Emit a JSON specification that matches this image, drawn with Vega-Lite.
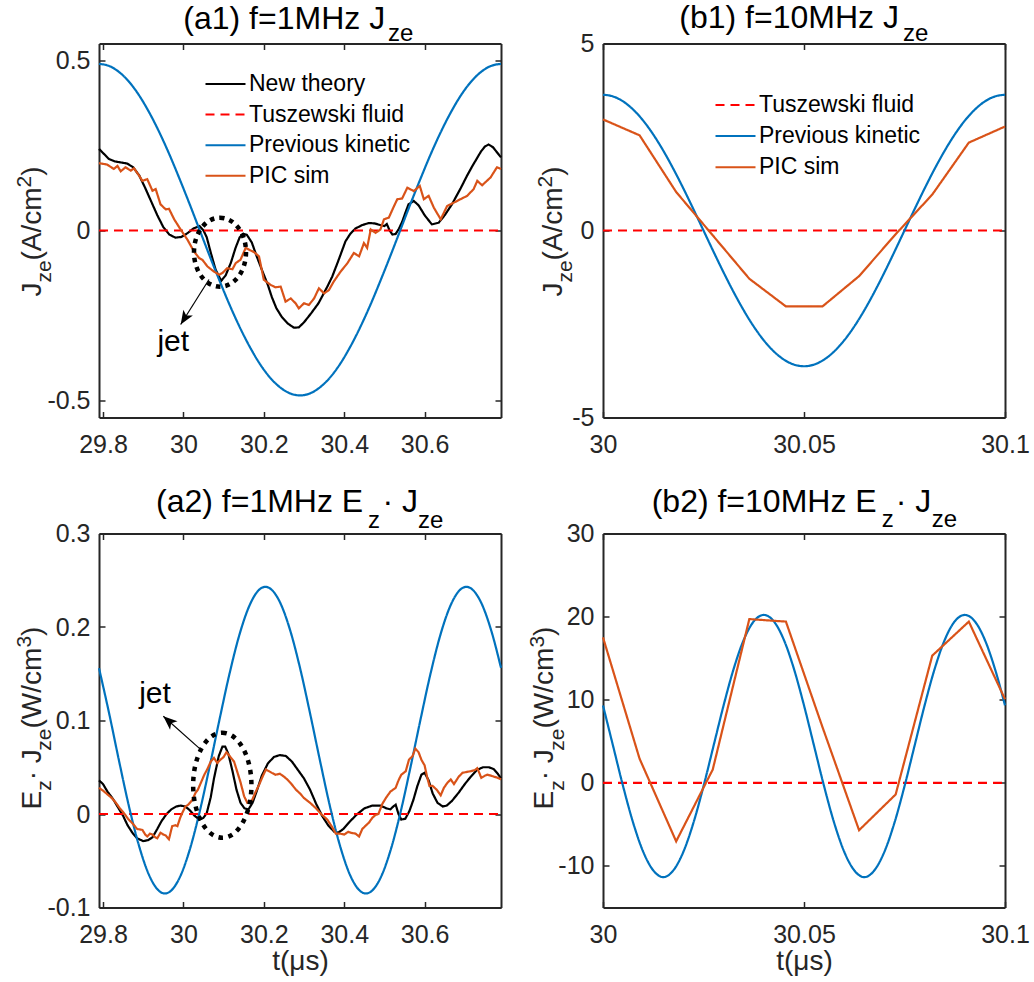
{
"$schema": "https://vega.github.io/schema/vega-lite/v6.json",
"background": "white",
"padding": {"left": 14, "top": 1.5, "right": 0, "bottom": 0},
"config": {
 "view": {"stroke": null},
 "font": "Liberation Sans",
 "axis": {"grid": false, "domainColor": "#262626", "domainWidth": 2, "tickColor": "#262626", "tickWidth": 1.5, "tickSize": -6, "labelFontSize": 25, "labelColor": "#262626", "labelFont": "Liberation Sans", "titleFont": "Liberation Sans", "titleFontSize": 28, "titleFontWeight": "normal", "titleColor": "#262626", "labelFlush": false, "labelOverlap": false, "labelBound": false},
 "axisBottom": {"labelPadding": 21, "titlePadding": 0},
 "axisLeft": {"labelPadding": 15},
 "axisTop": {"labels": false},
 "axisRight": {"labels": false}
},
"datasets": {
 "a1k": [
  {"s":"New theory","t":29.79,"v":0.24},{"s":"New theory","t":29.8,"v":0.228},{"s":"New theory","t":29.815,"v":0.21},{"s":"New theory","t":29.83,"v":0.203},{"s":"New theory","t":29.845,"v":0.2},{"s":"New theory","t":29.86,"v":0.197},{"s":"New theory","t":29.875,"v":0.186},{"s":"New theory","t":29.89,"v":0.162},{"s":"New theory","t":29.905,"v":0.125},{"s":"New theory","t":29.92,"v":0.085},{"s":"New theory","t":29.935,"v":0.045},{"s":"New theory","t":29.95,"v":0.01},{"s":"New theory","t":29.965,"v":-0.012},{"s":"New theory","t":29.98,"v":-0.021},{"s":"New theory","t":29.995,"v":-0.019},{"s":"New theory","t":30.01,"v":-0.008},{"s":"New theory","t":30.025,"v":0.006},{"s":"New theory","t":30.04,"v":0.013},{"s":"New theory","t":30.05,"v":0.0},{"s":"New theory","t":30.058,"v":-0.02},{"s":"New theory","t":30.068,"v":-0.065},{"s":"New theory","t":30.08,"v":-0.115},{"s":"New theory","t":30.094,"v":-0.148},{"s":"New theory","t":30.105,"v":-0.132},{"s":"New theory","t":30.118,"v":-0.095},{"s":"New theory","t":30.13,"v":-0.05},{"s":"New theory","t":30.14,"v":-0.02},{"s":"New theory","t":30.148,"v":-0.01},{"s":"New theory","t":30.158,"v":-0.013},{"s":"New theory","t":30.17,"v":-0.035},{"s":"New theory","t":30.182,"v":-0.075},{"s":"New theory","t":30.195,"v":-0.115},{"s":"New theory","t":30.21,"v":-0.16},{"s":"New theory","t":30.22,"v":-0.196},{"s":"New theory","t":30.231,"v":-0.228},{"s":"New theory","t":30.245,"v":-0.255},{"s":"New theory","t":30.26,"v":-0.274},{"s":"New theory","t":30.275,"v":-0.286},{"s":"New theory","t":30.287,"v":-0.285},{"s":"New theory","t":30.3,"v":-0.27},{"s":"New theory","t":30.318,"v":-0.243},{"s":"New theory","t":30.336,"v":-0.214},{"s":"New theory","t":30.358,"v":-0.165},{"s":"New theory","t":30.37,"v":-0.136},{"s":"New theory","t":30.385,"v":-0.09},{"s":"New theory","t":30.395,"v":-0.058},{"s":"New theory","t":30.403,"v":-0.032},{"s":"New theory","t":30.415,"v":-0.01},{"s":"New theory","t":30.428,"v":0.006},{"s":"New theory","t":30.445,"v":0.016},{"s":"New theory","t":30.461,"v":0.022},{"s":"New theory","t":30.475,"v":0.021},{"s":"New theory","t":30.49,"v":0.016},{"s":"New theory","t":30.5,"v":0.013},{"s":"New theory","t":30.506,"v":0.019},{"s":"New theory","t":30.513,"v":0.0},{"s":"New theory","t":30.52,"v":-0.012},{"s":"New theory","t":30.528,"v":-0.01},{"s":"New theory","t":30.536,"v":0.005},{"s":"New theory","t":30.544,"v":0.025},{"s":"New theory","t":30.553,"v":0.055},{"s":"New theory","t":30.56,"v":0.077},{"s":"New theory","t":30.573,"v":0.087},{"s":"New theory","t":30.585,"v":0.074},{"s":"New theory","t":30.6,"v":0.045},{"s":"New theory","t":30.618,"v":0.018},{"s":"New theory","t":30.635,"v":0.023},{"s":"New theory","t":30.65,"v":0.045},{"s":"New theory","t":30.668,"v":0.077},{"s":"New theory","t":30.69,"v":0.125},{"s":"New theory","t":30.705,"v":0.16},{"s":"New theory","t":30.718,"v":0.188},{"s":"New theory","t":30.73,"v":0.212},{"s":"New theory","t":30.74,"v":0.232},{"s":"New theory","t":30.75,"v":0.247},{"s":"New theory","t":30.759,"v":0.253},{"s":"New theory","t":30.77,"v":0.245},{"s":"New theory","t":30.78,"v":0.23},{"s":"New theory","t":30.79,"v":0.215},
  {"s":"Tuszewski fluid","t":29.79,"v":0},{"s":"Tuszewski fluid","t":30.79,"v":0}
 ],
 "a1b": [
  {"s":"Previous kinetic","t":29.79,"v":0.49},{"s":"Previous kinetic","t":29.815,"v":0.484},{"s":"Previous kinetic","t":29.84,"v":0.466},{"s":"Previous kinetic","t":29.865,"v":0.437},{"s":"Previous kinetic","t":29.89,"v":0.397},{"s":"Previous kinetic","t":29.915,"v":0.347},{"s":"Previous kinetic","t":29.94,"v":0.289},{"s":"Previous kinetic","t":29.965,"v":0.224},{"s":"Previous kinetic","t":29.99,"v":0.153},{"s":"Previous kinetic","t":30.015,"v":0.079},{"s":"Previous kinetic","t":30.04,"v":0.0025},{"s":"Previous kinetic","t":30.065,"v":-0.074},{"s":"Previous kinetic","t":30.09,"v":-0.148},{"s":"Previous kinetic","t":30.115,"v":-0.219},{"s":"Previous kinetic","t":30.14,"v":-0.284},{"s":"Previous kinetic","t":30.165,"v":-0.342},{"s":"Previous kinetic","t":30.19,"v":-0.392},{"s":"Previous kinetic","t":30.215,"v":-0.432},{"s":"Previous kinetic","t":30.24,"v":-0.461},{"s":"Previous kinetic","t":30.265,"v":-0.479},{"s":"Previous kinetic","t":30.29,"v":-0.485},{"s":"Previous kinetic","t":30.315,"v":-0.479},{"s":"Previous kinetic","t":30.34,"v":-0.461},{"s":"Previous kinetic","t":30.365,"v":-0.432},{"s":"Previous kinetic","t":30.39,"v":-0.392},{"s":"Previous kinetic","t":30.415,"v":-0.342},{"s":"Previous kinetic","t":30.44,"v":-0.284},{"s":"Previous kinetic","t":30.465,"v":-0.219},{"s":"Previous kinetic","t":30.49,"v":-0.148},{"s":"Previous kinetic","t":30.515,"v":-0.074},{"s":"Previous kinetic","t":30.54,"v":0.0025},{"s":"Previous kinetic","t":30.565,"v":0.079},{"s":"Previous kinetic","t":30.59,"v":0.153},{"s":"Previous kinetic","t":30.615,"v":0.224},{"s":"Previous kinetic","t":30.64,"v":0.289},{"s":"Previous kinetic","t":30.665,"v":0.347},{"s":"Previous kinetic","t":30.69,"v":0.397},{"s":"Previous kinetic","t":30.715,"v":0.437},{"s":"Previous kinetic","t":30.74,"v":0.466},{"s":"Previous kinetic","t":30.765,"v":0.484},{"s":"Previous kinetic","t":30.79,"v":0.49}
 ],
 "a1o": [
  {"s":"PIC sim","t":29.79,"v":0.198},{"s":"PIC sim","t":29.81,"v":0.194},{"s":"PIC sim","t":29.827,"v":0.181},{"s":"PIC sim","t":29.836,"v":0.19},{"s":"PIC sim","t":29.844,"v":0.174},{"s":"PIC sim","t":29.856,"v":0.186},{"s":"PIC sim","t":29.869,"v":0.176},{"s":"PIC sim","t":29.877,"v":0.183},{"s":"PIC sim","t":29.89,"v":0.161},{"s":"PIC sim","t":29.898,"v":0.146},{"s":"PIC sim","t":29.91,"v":0.151},{"s":"PIC sim","t":29.923,"v":0.117},{"s":"PIC sim","t":29.931,"v":0.122},{"s":"PIC sim","t":29.943,"v":0.077},{"s":"PIC sim","t":29.956,"v":0.062},{"s":"PIC sim","t":29.964,"v":0.064},{"s":"PIC sim","t":29.977,"v":0.033},{"s":"PIC sim","t":29.993,"v":0.003},{"s":"PIC sim","t":30.01,"v":-0.027},{"s":"PIC sim","t":30.026,"v":-0.061},{"s":"PIC sim","t":30.039,"v":-0.081},{"s":"PIC sim","t":30.047,"v":-0.086},{"s":"PIC sim","t":30.06,"v":-0.106},{"s":"PIC sim","t":30.076,"v":-0.121},{"s":"PIC sim","t":30.089,"v":-0.13},{"s":"PIC sim","t":30.097,"v":-0.125},{"s":"PIC sim","t":30.109,"v":-0.111},{"s":"PIC sim","t":30.122,"v":-0.114},{"s":"PIC sim","t":30.13,"v":-0.096},{"s":"PIC sim","t":30.142,"v":-0.086},{"s":"PIC sim","t":30.155,"v":-0.051},{"s":"PIC sim","t":30.166,"v":-0.058},{"s":"PIC sim","t":30.176,"v":-0.064},{"s":"PIC sim","t":30.188,"v":-0.076},{"s":"PIC sim","t":30.2,"v":-0.145},{"s":"PIC sim","t":30.217,"v":-0.16},{"s":"PIC sim","t":30.229,"v":-0.167},{"s":"PIC sim","t":30.242,"v":-0.165},{"s":"PIC sim","t":30.254,"v":-0.209},{"s":"PIC sim","t":30.267,"v":-0.2},{"s":"PIC sim","t":30.279,"v":-0.214},{"s":"PIC sim","t":30.287,"v":-0.229},{"s":"PIC sim","t":30.3,"v":-0.214},{"s":"PIC sim","t":30.312,"v":-0.219},{"s":"PIC sim","t":30.325,"v":-0.2},{"s":"PIC sim","t":30.337,"v":-0.17},{"s":"PIC sim","t":30.35,"v":-0.185},{"s":"PIC sim","t":30.362,"v":-0.175},{"s":"PIC sim","t":30.374,"v":-0.15},{"s":"PIC sim","t":30.391,"v":-0.121},{"s":"PIC sim","t":30.408,"v":-0.096},{"s":"PIC sim","t":30.424,"v":-0.066},{"s":"PIC sim","t":30.437,"v":-0.076},{"s":"PIC sim","t":30.449,"v":-0.037},{"s":"PIC sim","t":30.457,"v":-0.051},{"s":"PIC sim","t":30.466,"v":0.003},{"s":"PIC sim","t":30.478,"v":-0.007},{"s":"PIC sim","t":30.49,"v":0.003},{"s":"PIC sim","t":30.499,"v":0.033},{"s":"PIC sim","t":30.511,"v":0.038},{"s":"PIC sim","t":30.524,"v":0.072},{"s":"PIC sim","t":30.532,"v":0.092},{"s":"PIC sim","t":30.544,"v":0.094},{"s":"PIC sim","t":30.557,"v":0.126},{"s":"PIC sim","t":30.573,"v":0.116},{"s":"PIC sim","t":30.588,"v":0.131},{"s":"PIC sim","t":30.598,"v":0.092},{"s":"PIC sim","t":30.61,"v":0.102},{"s":"PIC sim","t":30.623,"v":0.067},{"s":"PIC sim","t":30.64,"v":0.033},{"s":"PIC sim","t":30.656,"v":0.072},{"s":"PIC sim","t":30.673,"v":0.082},{"s":"PIC sim","t":30.689,"v":0.092},{"s":"PIC sim","t":30.706,"v":0.102},{"s":"PIC sim","t":30.722,"v":0.122},{"s":"PIC sim","t":30.731,"v":0.146},{"s":"PIC sim","t":30.743,"v":0.133},{"s":"PIC sim","t":30.764,"v":0.156},{"s":"PIC sim","t":30.78,"v":0.186},{"s":"PIC sim","t":30.79,"v":0.181}
 ],
 "b1k": [
  {"s":"Tuszewski fluid","t":30,"v":0},{"s":"Tuszewski fluid","t":30.1,"v":0}
 ],
 "b1b": [
  {"s":"Previous kinetic","t":30,"v":3.63},{"s":"Previous kinetic","t":30.0025,"v":3.585},{"s":"Previous kinetic","t":30.005,"v":3.452},{"s":"Previous kinetic","t":30.0075,"v":3.234},{"s":"Previous kinetic","t":30.01,"v":2.937},{"s":"Previous kinetic","t":30.0125,"v":2.567},{"s":"Previous kinetic","t":30.015,"v":2.134},{"s":"Previous kinetic","t":30.0175,"v":1.648},{"s":"Previous kinetic","t":30.02,"v":1.122},{"s":"Previous kinetic","t":30.0225,"v":0.568},{"s":"Previous kinetic","t":30.025,"v":0},{"s":"Previous kinetic","t":30.0275,"v":-0.568},{"s":"Previous kinetic","t":30.03,"v":-1.122},{"s":"Previous kinetic","t":30.0325,"v":-1.648},{"s":"Previous kinetic","t":30.035,"v":-2.134},{"s":"Previous kinetic","t":30.0375,"v":-2.567},{"s":"Previous kinetic","t":30.04,"v":-2.937},{"s":"Previous kinetic","t":30.0425,"v":-3.234},{"s":"Previous kinetic","t":30.045,"v":-3.452},{"s":"Previous kinetic","t":30.0475,"v":-3.585},{"s":"Previous kinetic","t":30.05,"v":-3.63},{"s":"Previous kinetic","t":30.0525,"v":-3.585},{"s":"Previous kinetic","t":30.055,"v":-3.452},{"s":"Previous kinetic","t":30.0575,"v":-3.234},{"s":"Previous kinetic","t":30.06,"v":-2.937},{"s":"Previous kinetic","t":30.0625,"v":-2.567},{"s":"Previous kinetic","t":30.065,"v":-2.134},{"s":"Previous kinetic","t":30.0675,"v":-1.648},{"s":"Previous kinetic","t":30.07,"v":-1.122},{"s":"Previous kinetic","t":30.0725,"v":-0.568},{"s":"Previous kinetic","t":30.075,"v":0},{"s":"Previous kinetic","t":30.0775,"v":0.568},{"s":"Previous kinetic","t":30.08,"v":1.122},{"s":"Previous kinetic","t":30.0825,"v":1.648},{"s":"Previous kinetic","t":30.085,"v":2.134},{"s":"Previous kinetic","t":30.0875,"v":2.567},{"s":"Previous kinetic","t":30.09,"v":2.937},{"s":"Previous kinetic","t":30.0925,"v":3.234},{"s":"Previous kinetic","t":30.095,"v":3.452},{"s":"Previous kinetic","t":30.0975,"v":3.585},{"s":"Previous kinetic","t":30.1,"v":3.63}
 ],
 "b1o": [
  {"s":"PIC sim","t":30,"v":2.97},{"s":"PIC sim","t":30.0091,"v":2.545},{"s":"PIC sim","t":30.0182,"v":1.03},{"s":"PIC sim","t":30.0273,"v":-0.13},{"s":"PIC sim","t":30.0364,"v":-1.29},{"s":"PIC sim","t":30.0455,"v":-2.03},{"s":"PIC sim","t":30.0546,"v":-2.03},{"s":"PIC sim","t":30.0637,"v":-1.22},{"s":"PIC sim","t":30.0728,"v":-0.1},{"s":"PIC sim","t":30.0819,"v":0.96},{"s":"PIC sim","t":30.091,"v":2.35},{"s":"PIC sim","t":30.1,"v":2.78}
 ],
 "a2k": [
  {"s":"New theory","t":29.79,"v":0.036},{"s":"New theory","t":29.8,"v":0.032},{"s":"New theory","t":29.811,"v":0.024},{"s":"New theory","t":29.825,"v":0.016},{"s":"New theory","t":29.836,"v":0.008},{"s":"New theory","t":29.85,"v":-0.002},{"s":"New theory","t":29.861,"v":-0.012},{"s":"New theory","t":29.873,"v":-0.02},{"s":"New theory","t":29.885,"v":-0.026},{"s":"New theory","t":29.9,"v":-0.029},{"s":"New theory","t":29.912,"v":-0.028},{"s":"New theory","t":29.923,"v":-0.025},{"s":"New theory","t":29.935,"v":-0.016},{"s":"New theory","t":29.945,"v":-0.008},{"s":"New theory","t":29.958,"v":0.0},{"s":"New theory","t":29.97,"v":0.005},{"s":"New theory","t":29.982,"v":0.008},{"s":"New theory","t":29.993,"v":0.009},{"s":"New theory","t":30.005,"v":0.008},{"s":"New theory","t":30.016,"v":0.004},{"s":"New theory","t":30.028,"v":-0.002},{"s":"New theory","t":30.04,"v":-0.006},{"s":"New theory","t":30.05,"v":-0.004},{"s":"New theory","t":30.058,"v":0.001},{"s":"New theory","t":30.068,"v":0.018},{"s":"New theory","t":30.076,"v":0.038},{"s":"New theory","t":30.088,"v":0.062},{"s":"New theory","t":30.097,"v":0.072},{"s":"New theory","t":30.104,"v":0.072},{"s":"New theory","t":30.112,"v":0.064},{"s":"New theory","t":30.122,"v":0.046},{"s":"New theory","t":30.132,"v":0.026},{"s":"New theory","t":30.142,"v":0.012},{"s":"New theory","t":30.152,"v":0.006},{"s":"New theory","t":30.162,"v":0.005},{"s":"New theory","t":30.172,"v":0.012},{"s":"New theory","t":30.182,"v":0.024},{"s":"New theory","t":30.195,"v":0.041},{"s":"New theory","t":30.21,"v":0.054},{"s":"New theory","t":30.225,"v":0.061},{"s":"New theory","t":30.24,"v":0.063},{"s":"New theory","t":30.255,"v":0.062},{"s":"New theory","t":30.27,"v":0.056},{"s":"New theory","t":30.285,"v":0.047},{"s":"New theory","t":30.3,"v":0.038},{"s":"New theory","t":30.315,"v":0.026},{"s":"New theory","t":30.33,"v":0.011},{"s":"New theory","t":30.345,"v":-0.002},{"s":"New theory","t":30.36,"v":-0.012},{"s":"New theory","t":30.375,"v":-0.019},{"s":"New theory","t":30.385,"v":-0.02},{"s":"New theory","t":30.398,"v":-0.016},{"s":"New theory","t":30.412,"v":-0.009},{"s":"New theory","t":30.43,"v":-0.001},{"s":"New theory","t":30.45,"v":0.006},{"s":"New theory","t":30.47,"v":0.009},{"s":"New theory","t":30.49,"v":0.009},{"s":"New theory","t":30.505,"v":0.006},{"s":"New theory","t":30.515,"v":0.005},{"s":"New theory","t":30.522,"v":0.008},{"s":"New theory","t":30.528,"v":0.01},{"s":"New theory","t":30.535,"v":0.0},{"s":"New theory","t":30.542,"v":-0.006},{"s":"New theory","t":30.552,"v":-0.005},{"s":"New theory","t":30.562,"v":0.003},{"s":"New theory","t":30.572,"v":0.015},{"s":"New theory","t":30.582,"v":0.03},{"s":"New theory","t":30.592,"v":0.042},{"s":"New theory","t":30.6,"v":0.044},{"s":"New theory","t":30.61,"v":0.036},{"s":"New theory","t":30.62,"v":0.022},{"s":"New theory","t":30.632,"v":0.012},{"s":"New theory","t":30.645,"v":0.008},{"s":"New theory","t":30.655,"v":0.009},{"s":"New theory","t":30.668,"v":0.014},{"s":"New theory","t":30.685,"v":0.023},{"s":"New theory","t":30.7,"v":0.032},{"s":"New theory","t":30.715,"v":0.04},{"s":"New theory","t":30.73,"v":0.047},{"s":"New theory","t":30.745,"v":0.05},{"s":"New theory","t":30.76,"v":0.05},{"s":"New theory","t":30.772,"v":0.048},{"s":"New theory","t":30.782,"v":0.043},{"s":"New theory","t":30.79,"v":0.038},
  {"s":"Tuszewski fluid","t":29.79,"v":0},{"s":"Tuszewski fluid","t":30.79,"v":0}
 ],
 "a2b": [
  {"s":"Previous kinetic","t":29.79,"v":0.156},{"s":"Previous kinetic","t":29.815,"v":0.108},{"s":"Previous kinetic","t":29.84,"v":0.0565},{"s":"Previous kinetic","t":29.865,"v":0.0073},{"s":"Previous kinetic","t":29.89,"v":-0.0347},{"s":"Previous kinetic","t":29.915,"v":-0.0657},{"s":"Previous kinetic","t":29.94,"v":-0.0825},{"s":"Previous kinetic","t":29.954,"v":-0.085},{"s":"Previous kinetic","t":29.965,"v":-0.0834},{"s":"Previous kinetic","t":29.99,"v":-0.0686},{"s":"Previous kinetic","t":30.015,"v":-0.0392},{"s":"Previous kinetic","t":30.04,"v":0.0017},{"s":"Previous kinetic","t":30.065,"v":0.0503},{"s":"Previous kinetic","t":30.09,"v":0.1015},{"s":"Previous kinetic","t":30.115,"v":0.1507},{"s":"Previous kinetic","t":30.14,"v":0.1927},{"s":"Previous kinetic","t":30.165,"v":0.2236},{"s":"Previous kinetic","t":30.19,"v":0.2405},{"s":"Previous kinetic","t":30.204,"v":0.243},{"s":"Previous kinetic","t":30.215,"v":0.2414},{"s":"Previous kinetic","t":30.24,"v":0.2266},{"s":"Previous kinetic","t":30.265,"v":0.1972},{"s":"Previous kinetic","t":30.29,"v":0.1563},{"s":"Previous kinetic","t":30.315,"v":0.1077},{"s":"Previous kinetic","t":30.34,"v":0.0565},{"s":"Previous kinetic","t":30.365,"v":0.0073},{"s":"Previous kinetic","t":30.39,"v":-0.0347},{"s":"Previous kinetic","t":30.415,"v":-0.0657},{"s":"Previous kinetic","t":30.44,"v":-0.0825},{"s":"Previous kinetic","t":30.454,"v":-0.085},{"s":"Previous kinetic","t":30.465,"v":-0.0834},{"s":"Previous kinetic","t":30.49,"v":-0.0686},{"s":"Previous kinetic","t":30.515,"v":-0.0392},{"s":"Previous kinetic","t":30.54,"v":0.0017},{"s":"Previous kinetic","t":30.565,"v":0.0503},{"s":"Previous kinetic","t":30.59,"v":0.1015},{"s":"Previous kinetic","t":30.615,"v":0.1507},{"s":"Previous kinetic","t":30.64,"v":0.1927},{"s":"Previous kinetic","t":30.665,"v":0.2236},{"s":"Previous kinetic","t":30.69,"v":0.2405},{"s":"Previous kinetic","t":30.704,"v":0.243},{"s":"Previous kinetic","t":30.715,"v":0.2414},{"s":"Previous kinetic","t":30.74,"v":0.2266},{"s":"Previous kinetic","t":30.765,"v":0.1972},{"s":"Previous kinetic","t":30.79,"v":0.1563}
 ],
 "a2o": [
  {"s":"PIC sim","t":29.79,"v":0.028},{"s":"PIC sim","t":29.8,"v":0.025},{"s":"PIC sim","t":29.811,"v":0.021},{"s":"PIC sim","t":29.822,"v":0.017},{"s":"PIC sim","t":29.832,"v":0.012},{"s":"PIC sim","t":29.842,"v":0.006},{"s":"PIC sim","t":29.852,"v":0.001},{"s":"PIC sim","t":29.862,"v":-0.005},{"s":"PIC sim","t":29.873,"v":-0.01},{"s":"PIC sim","t":29.885,"v":-0.016},{"s":"PIC sim","t":29.898,"v":-0.017},{"s":"PIC sim","t":29.905,"v":-0.022},{"s":"PIC sim","t":29.91,"v":-0.024},{"s":"PIC sim","t":29.917,"v":-0.021},{"s":"PIC sim","t":29.923,"v":-0.022},{"s":"PIC sim","t":29.93,"v":-0.025},{"s":"PIC sim","t":29.935,"v":-0.026},{"s":"PIC sim","t":29.943,"v":-0.02},{"s":"PIC sim","t":29.95,"v":-0.022},{"s":"PIC sim","t":29.956,"v":-0.023},{"s":"PIC sim","t":29.964,"v":-0.027},{"s":"PIC sim","t":29.972,"v":-0.013},{"s":"PIC sim","t":29.98,"v":-0.012},{"s":"PIC sim","t":29.985,"v":-0.013},{"s":"PIC sim","t":29.992,"v":-0.004},{"s":"PIC sim","t":29.997,"v":0.001},{"s":"PIC sim","t":30.005,"v":0.008},{"s":"PIC sim","t":30.012,"v":0.01},{"s":"PIC sim","t":30.022,"v":0.015},{"s":"PIC sim","t":30.03,"v":0.0225},{"s":"PIC sim","t":30.036,"v":0.026},{"s":"PIC sim","t":30.043,"v":0.033},{"s":"PIC sim","t":30.052,"v":0.042},{"s":"PIC sim","t":30.059,"v":0.0475},{"s":"PIC sim","t":30.068,"v":0.056},{"s":"PIC sim","t":30.076,"v":0.06},{"s":"PIC sim","t":30.084,"v":0.0546},{"s":"PIC sim","t":30.092,"v":0.058},{"s":"PIC sim","t":30.1,"v":0.061},{"s":"PIC sim","t":30.107,"v":0.066},{"s":"PIC sim","t":30.115,"v":0.062},{"s":"PIC sim","t":30.126,"v":0.056},{"s":"PIC sim","t":30.134,"v":0.045},{"s":"PIC sim","t":30.142,"v":0.034},{"s":"PIC sim","t":30.151,"v":0.019},{"s":"PIC sim","t":30.159,"v":0.012},{"s":"PIC sim","t":30.165,"v":0.013},{"s":"PIC sim","t":30.171,"v":0.015},{"s":"PIC sim","t":30.18,"v":0.024},{"s":"PIC sim","t":30.188,"v":0.031},{"s":"PIC sim","t":30.197,"v":0.04},{"s":"PIC sim","t":30.205,"v":0.0475},{"s":"PIC sim","t":30.212,"v":0.046},{"s":"PIC sim","t":30.22,"v":0.044},{"s":"PIC sim","t":30.229,"v":0.042},{"s":"PIC sim","t":30.24,"v":0.043},{"s":"PIC sim","t":30.25,"v":0.04},{"s":"PIC sim","t":30.258,"v":0.037},{"s":"PIC sim","t":30.267,"v":0.033},{"s":"PIC sim","t":30.28,"v":0.026},{"s":"PIC sim","t":30.29,"v":0.022},{"s":"PIC sim","t":30.3,"v":0.017},{"s":"PIC sim","t":30.315,"v":0.012},{"s":"PIC sim","t":30.33,"v":0.006},{"s":"PIC sim","t":30.345,"v":-0.001},{"s":"PIC sim","t":30.358,"v":-0.006},{"s":"PIC sim","t":30.37,"v":-0.014},{"s":"PIC sim","t":30.379,"v":-0.021},{"s":"PIC sim","t":30.39,"v":-0.021},{"s":"PIC sim","t":30.4,"v":-0.022},{"s":"PIC sim","t":30.41,"v":-0.019},{"s":"PIC sim","t":30.416,"v":-0.02},{"s":"PIC sim","t":30.428,"v":-0.021},{"s":"PIC sim","t":30.437,"v":-0.024},{"s":"PIC sim","t":30.445,"v":-0.016},{"s":"PIC sim","t":30.452,"v":-0.013},{"s":"PIC sim","t":30.462,"v":-0.009},{"s":"PIC sim","t":30.47,"v":-0.004},{"s":"PIC sim","t":30.478,"v":-0.001},{"s":"PIC sim","t":30.485,"v":0.0},{"s":"PIC sim","t":30.495,"v":0.011},{"s":"PIC sim","t":30.505,"v":0.018},{"s":"PIC sim","t":30.515,"v":0.024},{"s":"PIC sim","t":30.528,"v":0.028},{"s":"PIC sim","t":30.535,"v":0.036},{"s":"PIC sim","t":30.542,"v":0.042},{"s":"PIC sim","t":30.553,"v":0.0457},{"s":"PIC sim","t":30.561,"v":0.058},{"s":"PIC sim","t":30.57,"v":0.062},{"s":"PIC sim","t":30.577,"v":0.07},{"s":"PIC sim","t":30.585,"v":0.066},{"s":"PIC sim","t":30.592,"v":0.058},{"s":"PIC sim","t":30.6,"v":0.052},{"s":"PIC sim","t":30.606,"v":0.04},{"s":"PIC sim","t":30.612,"v":0.03},{"s":"PIC sim","t":30.62,"v":0.03},{"s":"PIC sim","t":30.63,"v":0.026},{"s":"PIC sim","t":30.64,"v":0.02},{"s":"PIC sim","t":30.648,"v":0.028},{"s":"PIC sim","t":30.656,"v":0.033},{"s":"PIC sim","t":30.665,"v":0.037},{"s":"PIC sim","t":30.673,"v":0.032},{"s":"PIC sim","t":30.685,"v":0.04},{"s":"PIC sim","t":30.694,"v":0.044},{"s":"PIC sim","t":30.705,"v":0.045},{"s":"PIC sim","t":30.714,"v":0.0457},{"s":"PIC sim","t":30.725,"v":0.047},{"s":"PIC sim","t":30.731,"v":0.049},{"s":"PIC sim","t":30.736,"v":0.044},{"s":"PIC sim","t":30.741,"v":0.0386},{"s":"PIC sim","t":30.75,"v":0.041},{"s":"PIC sim","t":30.756,"v":0.042},{"s":"PIC sim","t":30.765,"v":0.041},{"s":"PIC sim","t":30.772,"v":0.04},{"s":"PIC sim","t":30.78,"v":0.039},{"s":"PIC sim","t":30.79,"v":0.037}
 ],
 "b2k": [
  {"s":"Tuszewski fluid","t":30,"v":0},{"s":"Tuszewski fluid","t":30.1,"v":0}
 ],
 "b2b": [
  {"s":"Previous kinetic","t":30,"v":9.317},{"s":"Previous kinetic","t":30.0025,"v":4.45},{"s":"Previous kinetic","t":30.005,"v":-0.417},{"s":"Previous kinetic","t":30.0075,"v":-4.808},{"s":"Previous kinetic","t":30.01,"v":-8.292},{"s":"Previous kinetic","t":30.0125,"v":-10.53},{"s":"Previous kinetic","t":30.015,"v":-11.35},{"s":"Previous kinetic","t":30.0175,"v":-10.53},{"s":"Previous kinetic","t":30.02,"v":-8.292},{"s":"Previous kinetic","t":30.0225,"v":-4.808},{"s":"Previous kinetic","t":30.025,"v":-0.417},{"s":"Previous kinetic","t":30.0275,"v":4.45},{"s":"Previous kinetic","t":30.03,"v":9.317},{"s":"Previous kinetic","t":30.0325,"v":13.708},{"s":"Previous kinetic","t":30.035,"v":17.19},{"s":"Previous kinetic","t":30.0375,"v":19.43},{"s":"Previous kinetic","t":30.04,"v":20.2},{"s":"Previous kinetic","t":30.0425,"v":19.43},{"s":"Previous kinetic","t":30.045,"v":17.19},{"s":"Previous kinetic","t":30.0475,"v":13.708},{"s":"Previous kinetic","t":30.05,"v":9.317},{"s":"Previous kinetic","t":30.0525,"v":4.45},{"s":"Previous kinetic","t":30.055,"v":-0.417},{"s":"Previous kinetic","t":30.0575,"v":-4.808},{"s":"Previous kinetic","t":30.06,"v":-8.292},{"s":"Previous kinetic","t":30.0625,"v":-10.53},{"s":"Previous kinetic","t":30.065,"v":-11.35},{"s":"Previous kinetic","t":30.0675,"v":-10.53},{"s":"Previous kinetic","t":30.07,"v":-8.292},{"s":"Previous kinetic","t":30.0725,"v":-4.808},{"s":"Previous kinetic","t":30.075,"v":-0.417},{"s":"Previous kinetic","t":30.0775,"v":4.45},{"s":"Previous kinetic","t":30.08,"v":9.317},{"s":"Previous kinetic","t":30.0825,"v":13.708},{"s":"Previous kinetic","t":30.085,"v":17.19},{"s":"Previous kinetic","t":30.0875,"v":19.43},{"s":"Previous kinetic","t":30.09,"v":20.2},{"s":"Previous kinetic","t":30.0925,"v":19.43},{"s":"Previous kinetic","t":30.095,"v":17.19},{"s":"Previous kinetic","t":30.0975,"v":13.708},{"s":"Previous kinetic","t":30.1,"v":9.317}
 ],
 "b2o": [
  {"s":"PIC sim","t":30,"v":17.5},{"s":"PIC sim","t":30.0091,"v":2.9},{"s":"PIC sim","t":30.0182,"v":-7.04},{"s":"PIC sim","t":30.0273,"v":1.6},{"s":"PIC sim","t":30.0364,"v":19.7},{"s":"PIC sim","t":30.0455,"v":19.4},{"s":"PIC sim","t":30.0546,"v":6.7},{"s":"PIC sim","t":30.0637,"v":-5.7},{"s":"PIC sim","t":30.0728,"v":-1.4},{"s":"PIC sim","t":30.0819,"v":15.3},{"s":"PIC sim","t":30.091,"v":19.4},{"s":"PIC sim","t":30.1,"v":10.06}
 ]
},
"columns": 2,
"spacing": {"row": 116, "column": 102},
"bounds": "flush",
"resolve": {"scale": {"color": "independent", "strokeDash": "independent"}, "legend": {"color": "independent", "strokeDash": "independent"}},
"concat": [
 {
  "width": 402, "height": 374,
  "resolve": {"axis": {"x": "independent", "y": "independent"}},
  "layer": [
   {"data": {"name": "a1k"}, "mark": {"type": "line", "strokeWidth": 2.2},
    "encoding": {
     "x": {"field": "t", "type": "quantitative", "scale": {"domain": [29.79, 30.79], "nice": false, "zero": false}, "axis": {"orient": "bottom", "values": [29.8, 30, 30.2, 30.4, 30.6], "labelExpr": "'' + datum.value", "title": null}},
     "y": {"field": "v", "type": "quantitative", "scale": {"domain": [-0.55, 0.55], "nice": false, "zero": false}, "axis": {"orient": "left", "values": [-0.5, 0, 0.5], "labelExpr": "'' + datum.value", "title": null}},
     "color": {"field": "s", "type": "nominal", "scale": {"domain": ["New theory", "Tuszewski fluid", "Previous kinetic", "PIC sim"], "range": ["#000000", "#FF0000", "#0072BD", "#D95319"]}, "legend": {"title": null, "orient": "none", "legendX": 115, "legendY": 29, "symbolType": "M -2 0 L 2 0", "symbolSize": 400, "symbolStrokeWidth": 2, "labelFontSize": 23, "labelFont": "Liberation Sans", "labelColor": "#000000", "labelOffset": 12, "labelLimit": 400, "rowPadding": 6.6, "padding": 0}},
     "strokeDash": {"field": "s", "type": "nominal", "scale": {"domain": ["New theory", "Tuszewski fluid", "Previous kinetic", "PIC sim"], "range": [[1, 0], [9, 6], [1, 0], [1, 0]]}, "legend": {"title": null, "orient": "none", "legendX": 115, "legendY": 29, "symbolType": "M -2 0 L 2 0", "symbolSize": 400, "symbolStrokeWidth": 2, "labelFontSize": 23, "labelFont": "Liberation Sans", "labelColor": "#000000", "labelOffset": 12, "labelLimit": 400, "rowPadding": 6.6, "padding": 0}}
    }},
   {"data": {"name": "a1b"}, "mark": {"type": "line", "strokeWidth": 2.2, "interpolate": "monotone"},
    "encoding": {
     "x": {"field": "t", "type": "quantitative", "axis": {"orient": "top", "values": [29.8, 30, 30.2, 30.4, 30.6], "labels": false, "title": null}},
     "y": {"field": "v", "type": "quantitative", "axis": {"orient": "right", "values": [-0.5, 0, 0.5], "labels": false, "title": null}},
     "color": {"field": "s", "type": "nominal"},
     "strokeDash": {"field": "s", "type": "nominal"}
    }},
   {"data": {"name": "a1o"}, "mark": {"type": "line", "strokeWidth": 2.2},
    "encoding": {
     "x": {"field": "t", "type": "quantitative", "axis": null},
     "y": {"field": "v", "type": "quantitative", "axis": null},
     "color": {"field": "s", "type": "nominal"},
     "strokeDash": {"field": "s", "type": "nominal"}
    }},
   {"data": {"values": [{}]}, "mark": {"type": "point", "shape": "M 0 -1 C 0.416 -1 0.754 -0.552 0.754 0 C 0.754 0.552 0.416 1 0 1 C -0.416 1 -0.754 0.552 -0.754 0 C -0.754 -0.552 -0.416 -1 0 -1 Z", "size": 4761, "filled": false, "stroke": "#000000", "strokeWidth": 4.5, "strokeDash": [4.5, 5], "opacity": 1},
    "encoding": {"x": {"datum": 30.091, "axis": null}, "y": {"datum": -0.0638, "axis": null}}},
   {"data": {"values": [{}]}, "mark": {"type": "rule", "color": "#000000", "strokeWidth": 1.2},
    "encoding": {"x": {"datum": 30.0636, "axis": null}, "y": {"datum": -0.1441, "axis": null}, "x2": {"datum": 29.9932}, "y2": {"datum": -0.2765}}},
   {"data": {"values": [{}]}, "mark": {"type": "point", "shape": "M 0 0 L 0.4 1 L 0 0.75 L -0.4 1 Z", "size": 784, "filled": true, "color": "#000000", "opacity": 1, "strokeWidth": 0, "angle": 212},
    "encoding": {"x": {"datum": 29.9932, "axis": null}, "y": {"datum": -0.2765, "axis": null}}},
   {"data": {"values": [{}]}, "mark": {"type": "text", "align": "center", "baseline": "alphabetic", "fontSize": 30, "font": "Liberation Sans", "color": "#000000"},
    "encoding": {"x": {"datum": 29.9748, "axis": null}, "y": {"datum": -0.355, "axis": null}, "text": {"value": "jet"}}},
   {"data": {"values": [{}]}, "mark": {"type": "text", "align": "left", "baseline": "alphabetic", "fontSize": 32, "font": "Liberation Sans", "color": "#000000"},
    "encoding": {"x": {"datum": 29.9997, "axis": null}, "y": {"datum": 0.5941, "axis": null}, "text": {"value": "(a1) f=1MHz J"}}},
   {"data": {"values": [{}]}, "mark": {"type": "text", "align": "left", "baseline": "alphabetic", "fontSize": 24, "font": "Liberation Sans", "color": "#000000"},
    "encoding": {"x": {"datum": 30.5089, "axis": null}, "y": {"datum": 0.5559, "axis": null}, "text": {"value": "ze"}}},
   {"data": {"values": [{}]}, "mark": {"type": "text", "align": "left", "baseline": "alphabetic", "angle": 270, "fontSize": 28, "font": "Liberation Sans", "color": "#262626"},
    "encoding": {"x": {"datum": 29.645, "axis": null}, "y": {"datum": -0.1941, "axis": null}, "text": {"value": "J"}}},
   {"data": {"values": [{}]}, "mark": {"type": "text", "align": "left", "baseline": "alphabetic", "angle": 270, "fontSize": 21, "font": "Liberation Sans", "color": "#262626"},
    "encoding": {"x": {"datum": 29.6706, "axis": null}, "y": {"datum": -0.1529, "axis": null}, "text": {"value": "ze"}}},
   {"data": {"values": [{}]}, "mark": {"type": "text", "align": "left", "baseline": "alphabetic", "angle": 270, "fontSize": 28, "font": "Liberation Sans", "color": "#262626"},
    "encoding": {"x": {"datum": 29.645, "axis": null}, "y": {"datum": -0.0882, "axis": null}, "text": {"value": "(A/cm"}}},
   {"data": {"values": [{}]}, "mark": {"type": "text", "align": "left", "baseline": "alphabetic", "angle": 270, "fontSize": 21, "font": "Liberation Sans", "color": "#262626"},
    "encoding": {"x": {"datum": 29.6213, "axis": null}, "y": {"datum": 0.1265, "axis": null}, "text": {"value": "2"}}},
   {"data": {"values": [{}]}, "mark": {"type": "text", "align": "left", "baseline": "alphabetic", "angle": 270, "fontSize": 28, "font": "Liberation Sans", "color": "#262626"},
    "encoding": {"x": {"datum": 29.645, "axis": null}, "y": {"datum": 0.1609, "axis": null}, "text": {"value": ")"}}}
  ]
 },
 {
  "width": 402, "height": 374,
  "resolve": {"axis": {"x": "independent", "y": "independent"}},
  "layer": [
   {"data": {"name": "b1k"}, "mark": {"type": "line", "strokeWidth": 2.2},
    "encoding": {
     "x": {"field": "t", "type": "quantitative", "scale": {"domain": [30, 30.1], "nice": false, "zero": false}, "axis": {"orient": "bottom", "values": [30, 30.05, 30.1], "labelExpr": "'' + datum.value", "title": null}},
     "y": {"field": "v", "type": "quantitative", "scale": {"domain": [-5, 5], "nice": false, "zero": false}, "axis": {"orient": "left", "values": [-5, 0, 5], "labelExpr": "'' + datum.value", "title": null}},
     "color": {"field": "s", "type": "nominal", "scale": {"domain": ["Tuszewski fluid", "Previous kinetic", "PIC sim"], "range": ["#FF0000", "#0072BD", "#D95319"]}, "legend": {"title": null, "orient": "none", "legendX": 121, "legendY": 50, "symbolType": "M -2 0 L 2 0", "symbolSize": 400, "symbolStrokeWidth": 2, "labelFontSize": 23, "labelFont": "Liberation Sans", "labelColor": "#000000", "labelOffset": 12, "labelLimit": 400, "rowPadding": 7.1, "padding": 0}},
     "strokeDash": {"field": "s", "type": "nominal", "scale": {"domain": ["Tuszewski fluid", "Previous kinetic", "PIC sim"], "range": [[9, 6], [1, 0], [1, 0]]}, "legend": {"title": null, "orient": "none", "legendX": 121, "legendY": 50, "symbolType": "M -2 0 L 2 0", "symbolSize": 400, "symbolStrokeWidth": 2, "labelFontSize": 23, "labelFont": "Liberation Sans", "labelColor": "#000000", "labelOffset": 12, "labelLimit": 400, "rowPadding": 7.1, "padding": 0}}
    }},
   {"data": {"name": "b1b"}, "mark": {"type": "line", "strokeWidth": 2.2, "interpolate": "monotone"},
    "encoding": {
     "x": {"field": "t", "type": "quantitative", "axis": {"orient": "top", "values": [30, 30.05, 30.1], "labels": false, "title": null}},
     "y": {"field": "v", "type": "quantitative", "axis": {"orient": "right", "values": [-5, 0, 5], "labels": false, "title": null}},
     "color": {"field": "s", "type": "nominal"},
     "strokeDash": {"field": "s", "type": "nominal"}
    }},
   {"data": {"name": "b1o"}, "mark": {"type": "line", "strokeWidth": 2.2},
    "encoding": {
     "x": {"field": "t", "type": "quantitative", "axis": null},
     "y": {"field": "v", "type": "quantitative", "axis": null},
     "color": {"field": "s", "type": "nominal"},
     "strokeDash": {"field": "s", "type": "nominal"}
    }},
   {"data": {"values": [{}]}, "mark": {"type": "text", "align": "left", "baseline": "alphabetic", "fontSize": 32, "font": "Liberation Sans", "color": "#000000"},
    "encoding": {"x": {"datum": 30.01898, "axis": null}, "y": {"datum": 5.4011, "axis": null}, "text": {"value": "(b1) f=10MHz J"}}},
   {"data": {"values": [{}]}, "mark": {"type": "text", "align": "left", "baseline": "alphabetic", "fontSize": 24, "font": "Liberation Sans", "color": "#000000"},
    "encoding": {"x": {"datum": 30.07463, "axis": null}, "y": {"datum": 5.0535, "axis": null}, "text": {"value": "ze"}}},
   {"data": {"values": [{}]}, "mark": {"type": "text", "align": "left", "baseline": "alphabetic", "angle": 270, "fontSize": 28, "font": "Liberation Sans", "color": "#262626"},
    "encoding": {"x": {"datum": 29.98973, "axis": null}, "y": {"datum": -1.7647, "axis": null}, "text": {"value": "J"}}},
   {"data": {"values": [{}]}, "mark": {"type": "text", "align": "left", "baseline": "alphabetic", "angle": 270, "fontSize": 21, "font": "Liberation Sans", "color": "#262626"},
    "encoding": {"x": {"datum": 29.99229, "axis": null}, "y": {"datum": -1.3904, "axis": null}, "text": {"value": "ze"}}},
   {"data": {"values": [{}]}, "mark": {"type": "text", "align": "left", "baseline": "alphabetic", "angle": 270, "fontSize": 28, "font": "Liberation Sans", "color": "#262626"},
    "encoding": {"x": {"datum": 29.98973, "axis": null}, "y": {"datum": -0.8021, "axis": null}, "text": {"value": "(A/cm"}}},
   {"data": {"values": [{}]}, "mark": {"type": "text", "align": "left", "baseline": "alphabetic", "angle": 270, "fontSize": 21, "font": "Liberation Sans", "color": "#262626"},
    "encoding": {"x": {"datum": 29.98736, "axis": null}, "y": {"datum": 1.1497, "axis": null}, "text": {"value": "2"}}},
   {"data": {"values": [{}]}, "mark": {"type": "text", "align": "left", "baseline": "alphabetic", "angle": 270, "fontSize": 28, "font": "Liberation Sans", "color": "#262626"},
    "encoding": {"x": {"datum": 29.98973, "axis": null}, "y": {"datum": 1.4626, "axis": null}, "text": {"value": ")"}}}
  ]
 },
 {
  "width": 402, "height": 374,
  "resolve": {"axis": {"x": "independent", "y": "independent"}},
  "layer": [
   {"data": {"name": "a2k"}, "mark": {"type": "line", "strokeWidth": 2.2},
    "encoding": {
     "x": {"field": "t", "type": "quantitative", "scale": {"domain": [29.79, 30.79], "nice": false, "zero": false}, "axis": {"orient": "bottom", "values": [29.8, 30, 30.2, 30.4, 30.6], "labelExpr": "'' + datum.value", "title": "t(μs)"}},
     "y": {"field": "v", "type": "quantitative", "scale": {"domain": [-0.1, 0.3], "nice": false, "zero": false}, "axis": {"orient": "left", "values": [-0.1, 0, 0.1, 0.2, 0.3], "labelExpr": "'' + datum.value", "title": null}},
     "color": {"field": "s", "type": "nominal", "scale": {"domain": ["New theory", "Tuszewski fluid", "Previous kinetic", "PIC sim"], "range": ["#000000", "#FF0000", "#0072BD", "#D95319"]}, "legend": null},
     "strokeDash": {"field": "s", "type": "nominal", "scale": {"domain": ["New theory", "Tuszewski fluid", "Previous kinetic", "PIC sim"], "range": [[1, 0], [9, 6], [1, 0], [1, 0]]}, "legend": null}
    }},
   {"data": {"name": "a2b"}, "mark": {"type": "line", "strokeWidth": 2.2, "interpolate": "monotone"},
    "encoding": {
     "x": {"field": "t", "type": "quantitative", "axis": {"orient": "top", "values": [29.8, 30, 30.2, 30.4, 30.6], "labels": false, "title": null}},
     "y": {"field": "v", "type": "quantitative", "axis": {"orient": "right", "values": [-0.1, 0, 0.1, 0.2, 0.3], "labels": false, "title": null}},
     "color": {"field": "s", "type": "nominal", "legend": null},
     "strokeDash": {"field": "s", "type": "nominal", "legend": null}
    }},
   {"data": {"name": "a2o"}, "mark": {"type": "line", "strokeWidth": 2.2},
    "encoding": {
     "x": {"field": "t", "type": "quantitative", "axis": null},
     "y": {"field": "v", "type": "quantitative", "axis": null},
     "color": {"field": "s", "type": "nominal", "legend": null},
     "strokeDash": {"field": "s", "type": "nominal", "legend": null}
    }},
   {"data": {"values": [{}]}, "mark": {"type": "point", "shape": "M 0 -1 C 0.3065 -1 0.555 -0.552 0.555 0 C 0.555 0.552 0.3065 1 0 1 C -0.3065 1 -0.555 0.552 -0.555 0 C -0.555 -0.552 -0.3065 -1 0 -1 Z", "size": 11025, "filled": false, "stroke": "#000000", "strokeWidth": 4.5, "strokeDash": [4.5, 5.5], "opacity": 1},
    "encoding": {"x": {"datum": 30.0967, "axis": null}, "y": {"datum": 0.0308, "axis": null}}},
   {"data": {"values": [{}]}, "mark": {"type": "rule", "color": "#000000", "strokeWidth": 1.2},
    "encoding": {"x": {"datum": 30.0412, "axis": null}, "y": {"datum": 0.0697, "axis": null}, "x2": {"datum": 29.95}, "y2": {"datum": 0.1046}}},
   {"data": {"values": [{}]}, "mark": {"type": "point", "shape": "M 0 0 L 0.4 1 L 0 0.75 L -0.4 1 Z", "size": 784, "filled": true, "color": "#000000", "opacity": 1, "strokeWidth": 0, "angle": 311.6},
    "encoding": {"x": {"datum": 29.95, "axis": null}, "y": {"datum": 0.1046, "axis": null}}},
   {"data": {"values": [{}]}, "mark": {"type": "text", "align": "center", "baseline": "alphabetic", "fontSize": 30, "font": "Liberation Sans", "color": "#000000"},
    "encoding": {"x": {"datum": 29.9293, "axis": null}, "y": {"datum": 0.1189, "axis": null}, "text": {"value": "jet"}}},
   {"data": {"values": [{}]}, "mark": {"type": "text", "align": "left", "baseline": "alphabetic", "fontSize": 32, "font": "Liberation Sans", "color": "#000000"},
    "encoding": {"x": {"datum": 29.9318, "axis": null}, "y": {"datum": 0.3225, "axis": null}, "text": {"value": "(a2) f=1MHz E"}}},
   {"data": {"values": [{}]}, "mark": {"type": "text", "align": "left", "baseline": "alphabetic", "fontSize": 24, "font": "Liberation Sans", "color": "#000000"},
    "encoding": {"x": {"datum": 30.4592, "axis": null}, "y": {"datum": 0.3064, "axis": null}, "text": {"value": "z"}}},
   {"data": {"values": [{}]}, "mark": {"type": "text", "align": "left", "baseline": "alphabetic", "fontSize": 32, "font": "Liberation Sans", "color": "#000000"},
    "encoding": {"x": {"datum": 30.4952, "axis": null}, "y": {"datum": 0.3225, "axis": null}, "text": {"value": "· J"}}},
   {"data": {"values": [{}]}, "mark": {"type": "text", "align": "left", "baseline": "alphabetic", "fontSize": 24, "font": "Liberation Sans", "color": "#000000"},
    "encoding": {"x": {"datum": 30.5835, "axis": null}, "y": {"datum": 0.3064, "axis": null}, "text": {"value": "ze"}}},
   {"data": {"values": [{}]}, "mark": {"type": "text", "align": "left", "baseline": "alphabetic", "angle": 270, "fontSize": 28, "font": "Liberation Sans", "color": "#262626"},
    "encoding": {"x": {"datum": 29.645, "axis": null}, "y": {"datum": 0.0048, "axis": null}, "text": {"value": "E"}}},
   {"data": {"values": [{}]}, "mark": {"type": "text", "align": "left", "baseline": "alphabetic", "angle": 270, "fontSize": 21, "font": "Liberation Sans", "color": "#262626"},
    "encoding": {"x": {"datum": 29.6706, "axis": null}, "y": {"datum": 0.0248, "axis": null}, "text": {"value": "z"}}},
   {"data": {"values": [{}]}, "mark": {"type": "text", "align": "left", "baseline": "alphabetic", "angle": 270, "fontSize": 28, "font": "Liberation Sans", "color": "#262626"},
    "encoding": {"x": {"datum": 29.645, "axis": null}, "y": {"datum": 0.036, "axis": null}, "text": {"value": "· J"}}},
   {"data": {"values": [{}]}, "mark": {"type": "text", "align": "left", "baseline": "alphabetic", "angle": 270, "fontSize": 21, "font": "Liberation Sans", "color": "#262626"},
    "encoding": {"x": {"datum": 29.6706, "axis": null}, "y": {"datum": 0.0677, "axis": null}, "text": {"value": "ze"}}},
   {"data": {"values": [{}]}, "mark": {"type": "text", "align": "left", "baseline": "alphabetic", "angle": 270, "fontSize": 28, "font": "Liberation Sans", "color": "#262626"},
    "encoding": {"x": {"datum": 29.645, "axis": null}, "y": {"datum": 0.0914, "axis": null}, "text": {"value": "(W/cm"}}},
   {"data": {"values": [{}]}, "mark": {"type": "text", "align": "left", "baseline": "alphabetic", "angle": 270, "fontSize": 21, "font": "Liberation Sans", "color": "#262626"},
    "encoding": {"x": {"datum": 29.6213, "axis": null}, "y": {"datum": 0.178, "axis": null}, "text": {"value": "3"}}},
   {"data": {"values": [{}]}, "mark": {"type": "text", "align": "left", "baseline": "alphabetic", "angle": 270, "fontSize": 28, "font": "Liberation Sans", "color": "#262626"},
    "encoding": {"x": {"datum": 29.645, "axis": null}, "y": {"datum": 0.1905, "axis": null}, "text": {"value": ")"}}}
  ]
 },
 {
  "width": 402, "height": 374,
  "resolve": {"axis": {"x": "independent", "y": "independent"}},
  "layer": [
   {"data": {"name": "b2k"}, "mark": {"type": "line", "strokeWidth": 2.2},
    "encoding": {
     "x": {"field": "t", "type": "quantitative", "scale": {"domain": [30, 30.1], "nice": false, "zero": false}, "axis": {"orient": "bottom", "values": [30, 30.05, 30.1], "labelExpr": "'' + datum.value", "title": "t(μs)"}},
     "y": {"field": "v", "type": "quantitative", "scale": {"domain": [-15, 30], "nice": false, "zero": false}, "axis": {"orient": "left", "values": [-10, 0, 10, 20, 30], "labelExpr": "'' + datum.value", "title": null}},
     "color": {"field": "s", "type": "nominal", "scale": {"domain": ["Tuszewski fluid", "Previous kinetic", "PIC sim"], "range": ["#FF0000", "#0072BD", "#D95319"]}, "legend": null},
     "strokeDash": {"field": "s", "type": "nominal", "scale": {"domain": ["Tuszewski fluid", "Previous kinetic", "PIC sim"], "range": [[9, 6], [1, 0], [1, 0]]}, "legend": null}
    }},
   {"data": {"name": "b2b"}, "mark": {"type": "line", "strokeWidth": 2.2, "interpolate": "monotone"},
    "encoding": {
     "x": {"field": "t", "type": "quantitative", "axis": {"orient": "top", "values": [30, 30.05, 30.1], "labels": false, "title": null}},
     "y": {"field": "v", "type": "quantitative", "axis": {"orient": "right", "values": [-10, 0, 10, 20, 30], "labels": false, "title": null}},
     "color": {"field": "s", "type": "nominal", "legend": null},
     "strokeDash": {"field": "s", "type": "nominal", "legend": null}
    }},
   {"data": {"name": "b2o"}, "mark": {"type": "line", "strokeWidth": 2.2},
    "encoding": {
     "x": {"field": "t", "type": "quantitative", "axis": null},
     "y": {"field": "v", "type": "quantitative", "axis": null},
     "color": {"field": "s", "type": "nominal", "legend": null},
     "strokeDash": {"field": "s", "type": "nominal", "legend": null}
    }},
   {"data": {"values": [{}]}, "mark": {"type": "text", "align": "left", "baseline": "alphabetic", "fontSize": 32, "font": "Liberation Sans", "color": "#000000"},
    "encoding": {"x": {"datum": 30.01211, "axis": null}, "y": {"datum": 32.527, "axis": null}, "text": {"value": "(b2) f=10MHz E"}}},
   {"data": {"values": [{}]}, "mark": {"type": "text", "align": "left", "baseline": "alphabetic", "fontSize": 24, "font": "Liberation Sans", "color": "#000000"},
    "encoding": {"x": {"datum": 30.06933, "axis": null}, "y": {"datum": 30.722, "axis": null}, "text": {"value": "z"}}},
   {"data": {"values": [{}]}, "mark": {"type": "text", "align": "left", "baseline": "alphabetic", "fontSize": 32, "font": "Liberation Sans", "color": "#000000"},
    "encoding": {"x": {"datum": 30.07284, "axis": null}, "y": {"datum": 32.527, "axis": null}, "text": {"value": "· J"}}},
   {"data": {"values": [{}]}, "mark": {"type": "text", "align": "left", "baseline": "alphabetic", "fontSize": 24, "font": "Liberation Sans", "color": "#000000"},
    "encoding": {"x": {"datum": 30.08177, "axis": null}, "y": {"datum": 30.722, "axis": null}, "text": {"value": "ze"}}},
   {"data": {"values": [{}]}, "mark": {"type": "text", "align": "left", "baseline": "alphabetic", "angle": 270, "fontSize": 28, "font": "Liberation Sans", "color": "#262626"},
    "encoding": {"x": {"datum": 29.98764, "axis": null}, "y": {"datum": -3.209, "axis": null}, "text": {"value": "E"}}},
   {"data": {"values": [{}]}, "mark": {"type": "text", "align": "left", "baseline": "alphabetic", "angle": 270, "fontSize": 21, "font": "Liberation Sans", "color": "#262626"},
    "encoding": {"x": {"datum": 29.9903, "axis": null}, "y": {"datum": -0.959, "axis": null}, "text": {"value": "z"}}},
   {"data": {"values": [{}]}, "mark": {"type": "text", "align": "left", "baseline": "alphabetic", "angle": 270, "fontSize": 28, "font": "Liberation Sans", "color": "#262626"},
    "encoding": {"x": {"datum": 29.98764, "axis": null}, "y": {"datum": 0.305, "axis": null}, "text": {"value": "· J"}}},
   {"data": {"values": [{}]}, "mark": {"type": "text", "align": "left", "baseline": "alphabetic", "angle": 270, "fontSize": 21, "font": "Liberation Sans", "color": "#262626"},
    "encoding": {"x": {"datum": 29.9903, "axis": null}, "y": {"datum": 3.866, "axis": null}, "text": {"value": "ze"}}},
   {"data": {"values": [{}]}, "mark": {"type": "text", "align": "left", "baseline": "alphabetic", "angle": 270, "fontSize": 28, "font": "Liberation Sans", "color": "#262626"},
    "encoding": {"x": {"datum": 29.98764, "axis": null}, "y": {"datum": 6.537, "axis": null}, "text": {"value": "(W/cm"}}},
   {"data": {"values": [{}]}, "mark": {"type": "text", "align": "left", "baseline": "alphabetic", "angle": 270, "fontSize": 21, "font": "Liberation Sans", "color": "#262626"},
    "encoding": {"x": {"datum": 29.98527, "axis": null}, "y": {"datum": 16.271, "axis": null}, "text": {"value": "3"}}},
   {"data": {"values": [{}]}, "mark": {"type": "text", "align": "left", "baseline": "alphabetic", "angle": 270, "fontSize": 28, "font": "Liberation Sans", "color": "#262626"},
    "encoding": {"x": {"datum": 29.98764, "axis": null}, "y": {"datum": 17.679, "axis": null}, "text": {"value": ")"}}}
  ]
 }
]
}
